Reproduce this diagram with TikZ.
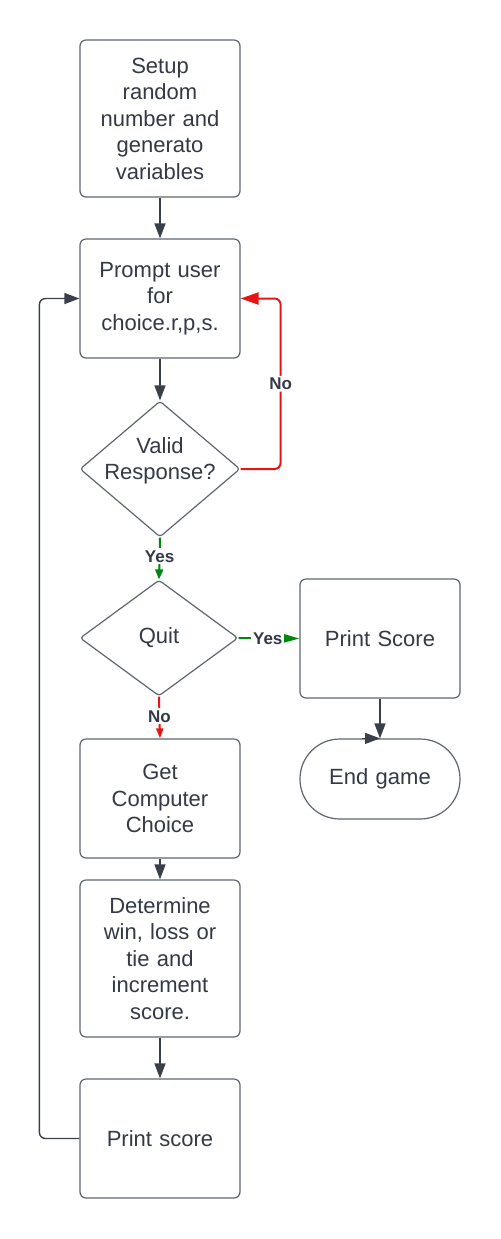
\documentclass[tikz,border=0pt]{standalone}
\usepackage{fontspec}
\setmainfont{Liberation Sans}
\usetikzlibrary{shapes.geometric,arrows.meta}
\definecolor{txt}{HTML}{333A45}
\definecolor{bord}{HTML}{5F6670}
\definecolor{conn}{HTML}{3A404A}
\definecolor{gr}{HTML}{00870E}
\definecolor{rd}{HTML}{E81515}
\begin{document}
\begin{tikzpicture}[x=0.5pt,y=-0.5pt,
  box/.style={draw=bord, line width=0.6pt, rounded corners=3pt, fill=white,
    minimum width=80pt, text width=76pt, align=center, inner sep=0pt,
    font=\fontsize{11}{13.25}\selectfont, text=txt},
  dia/.style={draw=bord, line width=0.6pt, shape=diamond, rounded corners=1.5pt,
    inner sep=0pt, fill=white},
  dtext/.style={align=center, inner sep=0pt, font=\fontsize{11}{13.25}\selectfont, text=txt},
  arr/.style={draw=conn, line width=0.7pt, -{Triangle[length=7.5pt,width=5.5pt]}},
  lbl/.style={fill=white, inner sep=1pt, font=\fontsize{8.5}{10}\bfseries\selectfont, text=txt},
  grv/.style={draw=gr, line width=1pt, -{Triangle[length=5pt,width=4pt]}},
  grh/.style={draw=gr, line width=1pt, -{Triangle[length=8.5pt,width=4.5pt]}},
  rdv/.style={draw=rd, line width=1pt, -{Triangle[length=5pt,width=3.5pt]}},
  rdloop/.style={draw=rd, line width=1pt, rounded corners=3pt, -{Triangle[length=9pt,width=6pt]}},
  loop/.style={arr, rounded corners=3pt}
]
\useasboundingbox (0,0) rectangle (501,1239);

\node[box, minimum height=78.5pt] (setup) at (160,118.5) {\raisebox{1pt}{\parbox{76pt}{\centering Setup\\random\\number and\\generato\\variables}}};
\node[box, minimum height=59.5pt] (prompt) at (160,298.5) {Prompt user\\for\\choice.r,p,s.};
\node[dia, minimum width=80pt, minimum height=68pt] (valid) at (160,469) {};
\node[dtext] (validt) at (160,461) {Valid\\Response?};
\node[dia, minimum width=79pt, minimum height=58pt] (quit) at (159,638) {};
\node[dtext] (quitt) at (quit) {Quit};
\node[box, minimum height=59.5pt] (pscore) at (380,638.5) {Print Score};
\node[box, minimum height=40pt, rounded corners=19.9pt] (endg) at (380,779) {End game};
\node[box, minimum height=59.5pt] (getc) at (160,798.5) {Get\\Computer\\Choice};
\node[box, minimum height=78.5pt] (det) at (160,958.5) {\raisebox{1pt}{\parbox{76pt}{\centering Determine\\win, loss or\\tie and\\increment\\score.}}};
\node[box, minimum height=59.5pt] (pscore2) at (160,1138.5) {Print score};

\draw[arr] (setup) -- (prompt);
\draw[arr] (prompt) -- (valid);
\draw[grv] (valid.south) -- node[lbl, pos=0.45] {Yes} (quit.north);
\draw[grh] (quit.east) -- node[lbl, pos=0.48] {Yes} (pscore.west);
\draw[rdv] (quit.south) -- node[lbl, pos=0.47] {No} (getc.north);
\draw[rdloop] (valid.east) -- ++(40,0) |- node[lbl, pos=0.25] {No} (prompt.east);
\draw[arr] (getc) -- (det);
\draw[arr] (det) -- (pscore2);
\draw[loop] (pscore2.west) -- ++(-40,0) |- (prompt.west);
\draw[arr] (pscore) -- (endg);
\draw[arr] ([xshift=-9pt]endg.north) -- (endg.north);
\end{tikzpicture}
\end{document}
